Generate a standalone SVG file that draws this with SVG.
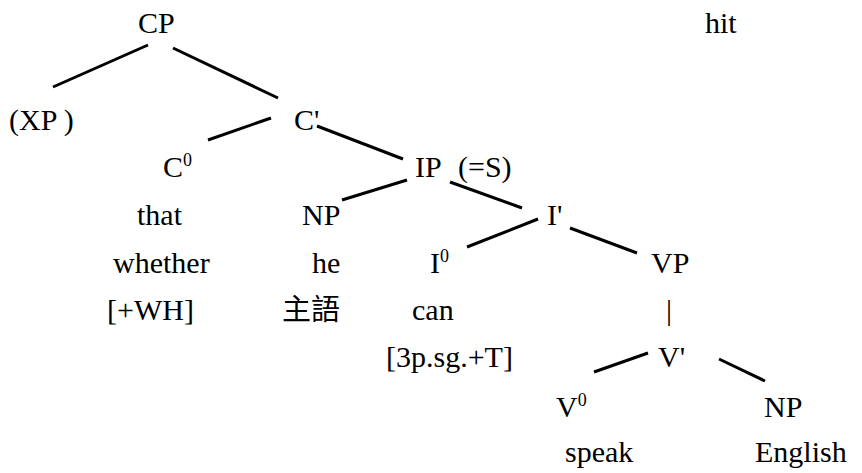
<svg xmlns="http://www.w3.org/2000/svg" width="862" height="473" viewBox="0 0 862 473">
<style>
.t{font-family:'Liberation Serif','Noto Sans CJK TC',serif;font-size:30px;fill:#000}
.cjk{font-family:'Noto Sans CJK TC','Liberation Sans',sans-serif;font-size:29px;fill:#000}
.sup{font-size:18px}
</style>
<rect width="862" height="473" fill="#fff"/>
<g id="connectors" stroke="#000" stroke-width="3" fill="none">
<line x1="148" y1="45" x2="53" y2="87"/>
<line x1="173" y1="48" x2="278" y2="98"/>
<line x1="271" y1="118" x2="208" y2="140"/>
<line x1="317" y1="126" x2="403" y2="159"/>
<line x1="407" y1="180" x2="342" y2="200"/>
<line x1="450" y1="182" x2="522" y2="208"/>
<line x1="538" y1="219" x2="467" y2="247"/>
<line x1="570" y1="228" x2="637" y2="253"/>
<line x1="648" y1="353" x2="594" y2="372"/>
<line x1="719" y1="359" x2="765" y2="381"/>
</g>
<g id="CP"><text class="t" x="138" y="33">CP</text></g>
<g id="hit"><text class="t" x="705" y="33">hit</text></g>
<g id="XP"><text class="t" x="9" y="130">(XP )</text></g>
<g id="Cbar"><text class="t" x="294" y="130">C'</text></g>
<g id="C0"><text class="t" x="163" y="177">C<tspan class="sup" dy="-11">0</tspan></text></g>
<g id="IP"><text class="t" x="415" y="177">IP</text><text class="t" x="458" y="177">(=S)</text></g>
<g id="that"><text class="t" x="137" y="225">that</text></g>
<g id="NP-subj"><text class="t" x="302" y="225">NP</text></g>
<g id="Ibar"><text class="t" x="547" y="225">I'</text></g>
<g id="whether"><text class="t" x="113" y="273">whether</text></g>
<g id="he"><text class="t" x="312" y="273">he</text></g>
<g id="I0"><text class="t" x="430" y="273">I<tspan class="sup" dy="-11">0</tspan></text></g>
<g id="VP"><text class="t" x="651" y="273">VP</text></g>
<g id="WH"><text class="t" x="107" y="320">[+WH]</text></g>
<g id="subject"><text class="cjk" x="282" y="320">主語</text></g>
<g id="can"><text class="t" x="412" y="320">can</text></g>
<g id="bar"><text class="t" x="666" y="320">|</text></g>
<g id="agr"><text class="t" x="386" y="367">[3p.sg.+T]</text></g>
<g id="Vbar"><text class="t" x="658" y="367">V'</text></g>
<g id="V0"><text class="t" x="556" y="417">V<tspan class="sup" dy="-11">0</tspan></text></g>
<g id="NP-obj"><text class="t" x="764" y="417">NP</text></g>
<g id="speak"><text class="t" x="565" y="462">speak</text></g>
<g id="English"><text class="t" x="755" y="462">English</text></g>
</svg>
